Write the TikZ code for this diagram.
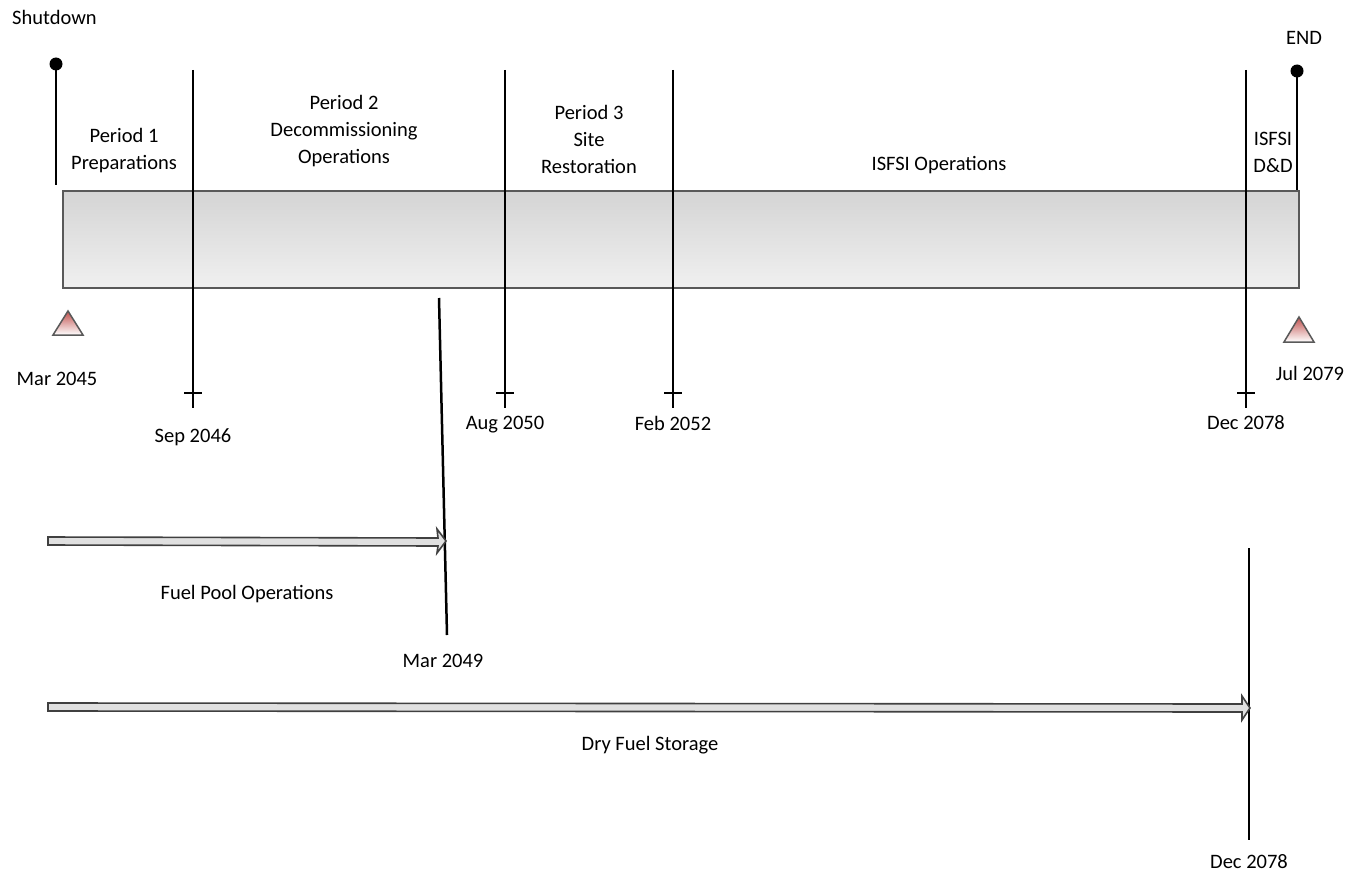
\documentclass[tikz,border=0pt]{standalone}
\usepackage{fontspec}
\setmainfont{Carlito}
\usetikzlibrary{calc}
\definecolor{barborder}{HTML}{595959}
\definecolor{bartop}{HTML}{D4D4D4}
\definecolor{barbot}{HTML}{F0F0F0}
\definecolor{tri}{HTML}{C0504D}
\tikzset{
  lbl/.style={font=\fontsize{20.5}{27}\selectfont, align=center, inner sep=0pt},
  vline/.style={draw=black, line width=2.5pt},
  tickmark/.style={draw=black, line width=2.2pt},
  dot/.style={circle, fill=black, inner sep=0pt, minimum size=13pt},
  blockarrow/.style={draw=black!75, fill=black!12, line width=1.6pt, line join=miter},
  trimark/.style={draw=black!65, line width=1.5pt, top color=tri, bottom color=white},
}
\begin{document}
\begin{tikzpicture}[x=1pt,y=-1pt]
\useasboundingbox (0,0) rectangle (1349,875);
% main bar
\node[draw=barborder, line width=1.5pt, top color=bartop, bottom color=barbot,
      minimum width=1236pt, minimum height=97pt, inner sep=0pt, anchor=north west] (bar) at (62,190) {};
% start / end markers
\node[dot] (sdot) at (56,64) {};
\coordinate (sbot) at (56,185);
\draw[vline] (sdot.center) -- (sbot);
\node[dot] (edot) at (1297,71) {};
\coordinate (ebot) at (1297,190);
\draw[vline] (edot.center) -- (ebot);
% milestone lines
\foreach \nm/\x in {sep/193, aug/505, feb/673, dec/1246}{
  \coordinate (\nm top) at (\x,70);
  \coordinate (\nm bot) at (\x,408);
  \draw[vline] (\nm top) -- (\nm bot);
  \draw[tickmark] (\x-9,393) -- (\x+9,393);
}
% slanted line Mar 2049
\coordinate (mtop) at (439,298);
\coordinate (mbot) at (447,635);
\draw[vline] (mtop) -- (mbot);
% second Dec 2078 line
\coordinate (d2top) at (1249,548);
\coordinate (d2bot) at (1249,840);
\draw[vline] (d2top) -- (d2bot);
% triangles
\coordinate (t1) at (68,311);
\draw[trimark] (t1) -- ++(-15,24) -- ++(30,0) -- cycle;
\coordinate (t2) at (1299,317);
\draw[trimark] (t2) -- ++(-15,25) -- ++(30,0) -- cycle;
% block arrows
\coordinate (fpA) at (48,537);
\coordinate (fpB) at (446,541);
\draw[blockarrow] (fpA) -- (438,538) -- (437,529) -- (fpB) -- (437,553) -- (438,546) -- (48,545) -- cycle;
\coordinate (dfA) at (48,703);
\coordinate (dfB) at (1250,708);
\draw[blockarrow] (dfA) -- (1242,704) -- (1242,696) -- (dfB) -- (1242,720) -- (1242,712) -- (48,711) -- cycle;
% labels
\node[lbl, anchor=west] (shut) at (12,17) {Shutdown};
\node[lbl] (endl) at (1304,38) {END};
\node[lbl] (p1) at (124,151) {Period 1\\Preparations};
\node[lbl] (p2) at (344,131) {Period 2\\Decommissioning\\Operations};
\node[lbl] (p3) at (589,139) {Period 3\\Site\\Restoration};
\node[lbl] (isfsi) at (939,165) {ISFSI Operations};
\node[lbl] (dd) at (1273,152) {ISFSI\\D\&D};
\node[lbl] (m45) at (57,379) {Mar 2045};
\node[lbl] (s46) at (193,437) {Sep 2046};
\node[lbl] (a50) at (505,425) {Aug 2050};
\node[lbl] (f52) at (673,423) {Feb 2052};
\node[lbl] (d78) at (1246,423) {Dec 2078};
\node[lbl] (j79) at (1310,373) {Jul 2079};
\node[lbl] (fpo) at (247,594) {Fuel Pool Operations};
\node[lbl] (m49) at (443,661) {Mar 2049};
\node[lbl] (dfs) at (650,745) {Dry Fuel Storage};
\node[lbl] (d78b) at (1249,862) {Dec 2078};
\end{tikzpicture}
\end{document}
